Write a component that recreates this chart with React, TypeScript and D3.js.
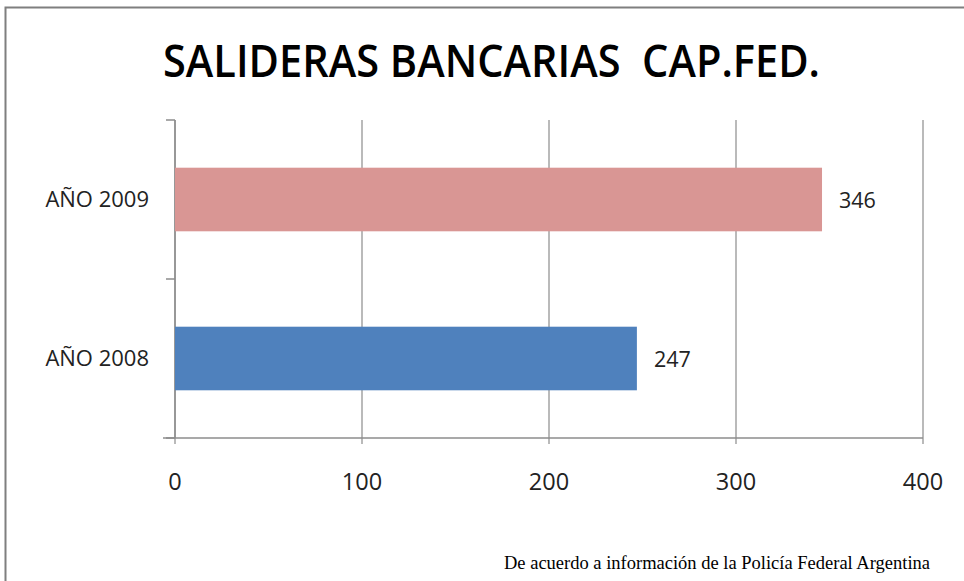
import React from "react";
import * as d3 from "d3";

const categories = ["AÑO 2009", "AÑO 2008"];
const values = [346, 247];
const barColors = ["#D99694", "#4F81BD"];
const xTicks = [0, 100, 200, 300, 400];
const title = "SALIDERAS BANCARIAS  CAP.FED.";
const footnote = "De acuerdo a información de la Policía Federal Argentina";

export default function App() {
  const W = 964, H = 581;
  const left = 175, right = 923, top = 120, bottom = 438;
  const x = d3.scaleLinear().domain([0, 400]).range([left, right]);
  const y = d3.scaleBand().domain(categories).range([top, bottom]).paddingInner(0.6).paddingOuter(0.3);
  const yBound = d3.scaleBand().domain(categories).range([top, bottom]);
  const font = "'Open Sans', 'Liberation Sans', sans-serif";
  const grid = "#8c8c8c";
  return (
    <svg width={W} height={H} style={{ position: "absolute", left: 0, top: 0, background: "#fff" }}>
      <rect x={0} y={0} width={W} height={H} fill="#fff" />
      <path d={`M5.5,${H} V7.5 H${W}`} fill="none" stroke="#7f7f7f" strokeWidth={2} />
      <text x={163} y={77} fontFamily={font} fontWeight={600} fontSize={45} textLength={657} lengthAdjust="spacingAndGlyphs" fill="#000" style={{ whiteSpace: "pre" }}>{title}</text>
      {xTicks.map((t) => (
        <g key={t}>
          <line x1={x(t)} x2={x(t)} y1={top} y2={bottom + 6} stroke={grid} strokeWidth={1.2} />
          <text x={x(t)} y={490} textAnchor="middle" fontFamily={font} fontSize={23.5} fill="#222">{t}</text>
        </g>
      ))}
      <line x1={163} x2={right} y1={bottom} y2={bottom} stroke={grid} strokeWidth={1.5} />
      <line x1={left} x2={left} y1={top} y2={bottom} stroke={grid} strokeWidth={1.5} />
      {[top, top + yBound.bandwidth(), bottom].map((v, i) => (
        <line key={i} x1={166} x2={left} y1={v} y2={v} stroke={grid} strokeWidth={1.5} />
      ))}
      {categories.map((c, i) => {
        const by = y(c)!;
        const bh = y.bandwidth();
        return (
          <g key={c}>
            <rect x={x(0)} y={by} width={x(values[i]) - x(0)} height={bh} fill={barColors[i]} />
            <text x={149} y={by + bh / 2 + 7.5} textAnchor="end" fontFamily={font} fontSize={22} fill="#222">{c}</text>
            <text x={x(values[i]) + 17} y={by + bh / 2 + 8} fontFamily={font} fontSize={21.5} fill="#222">{values[i]}</text>
          </g>
        );
      })}
      <text x={930} y={569} textAnchor="end" fontFamily="'Liberation Serif', 'Times New Roman', serif" fontSize={18.5} fill="#000">{footnote}</text>
    </svg>
  );
}
